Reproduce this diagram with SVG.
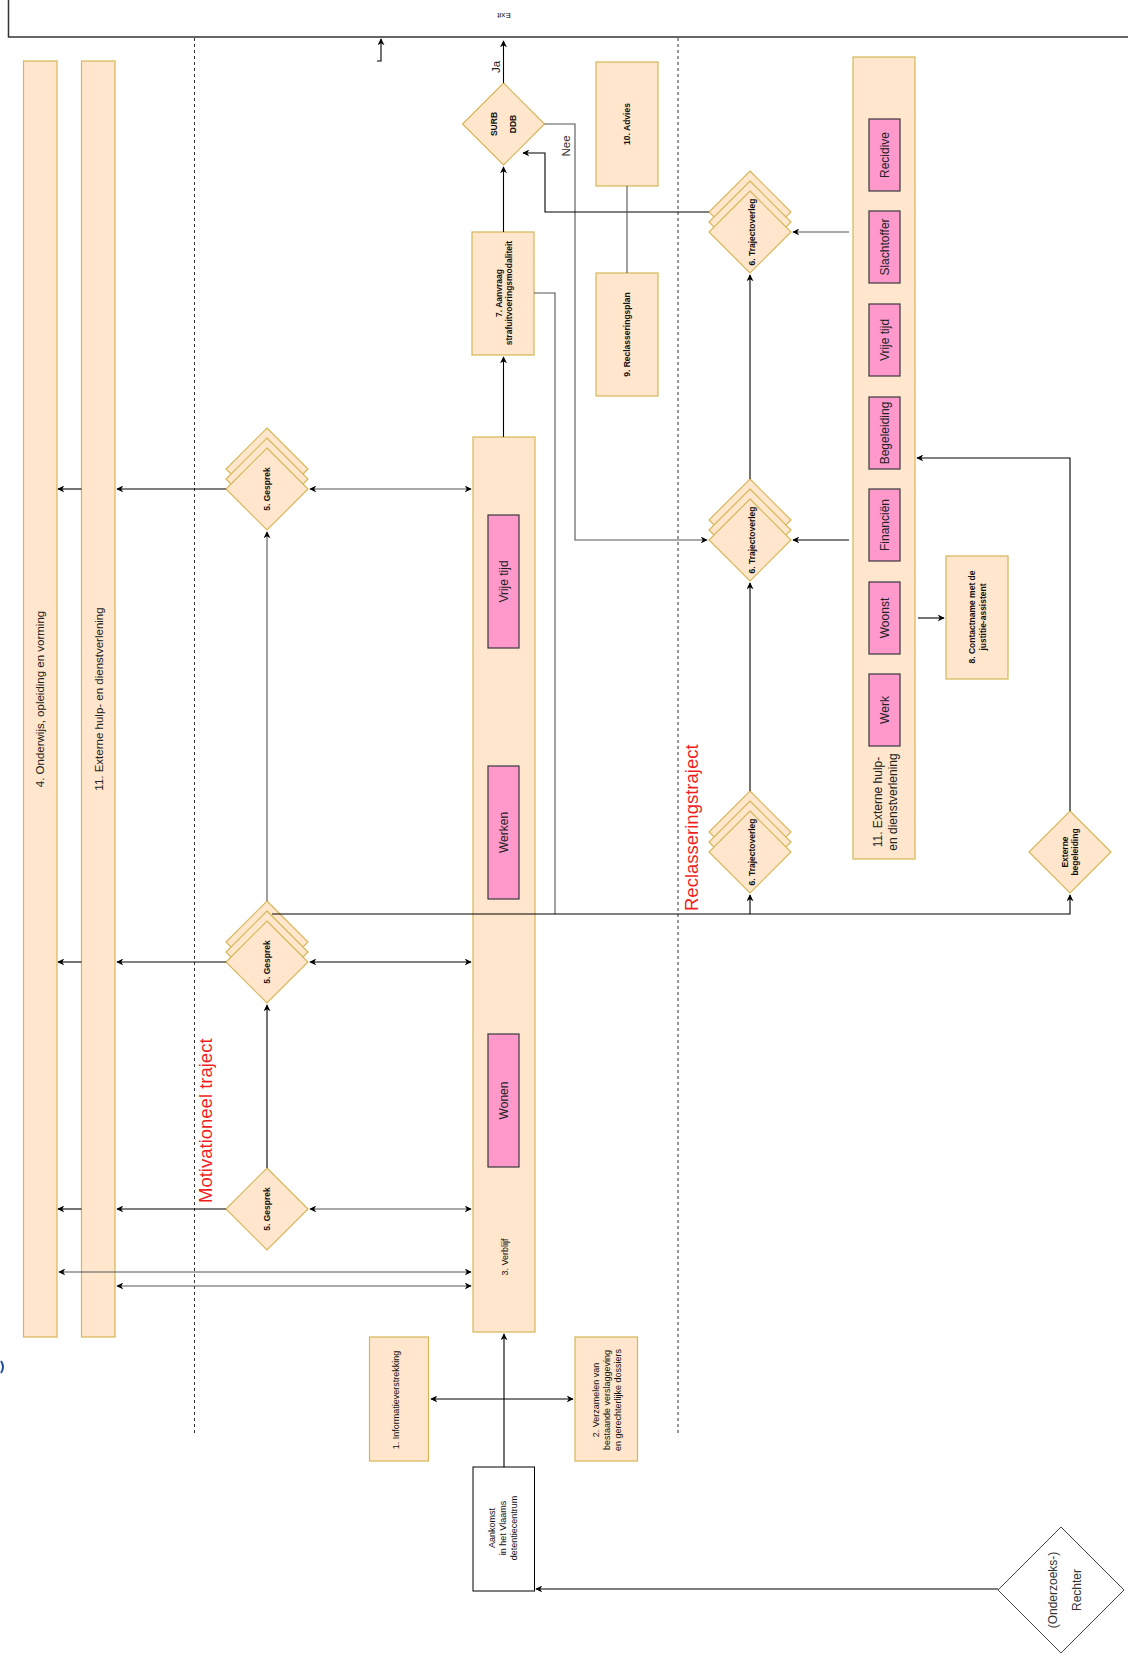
<svg xmlns="http://www.w3.org/2000/svg" width="1128" height="1661" viewBox="0 0 1128 1661">
<defs>
<marker id="ah" viewBox="0 0 10 10" refX="9" refY="5" markerWidth="7" markerHeight="7" orient="auto-start-reverse" markerUnits="userSpaceOnUse">
<path d="M0,0 L10,5 L0,10 L3,5 z" fill="#000"/>
</marker>
<style>
.n{fill:#ffe6cc;stroke:#d6b656;stroke-width:1.2}
.p{fill:#ff99cc;stroke:#36393d;stroke-width:1.2}
.w{fill:#fff;stroke:#000;stroke-width:1}
.c{fill:none;stroke:#000;stroke-width:1.1}
.g{fill:none;stroke:#555;stroke-width:1.1}
.a{marker-end:url(#ah)}
.b{marker-start:url(#ah);marker-end:url(#ah)}
.d{fill:none;stroke:#333;stroke-width:1;stroke-dasharray:3,3}
text{font-family:"Liberation Sans",Arial,sans-serif;fill:#111;text-anchor:middle;dominant-baseline:central}
.s{font-size:8.5px;font-weight:bold}
.r{font-size:9px}
.m{font-size:12px;fill:#222}
.L{font-size:11.5px;fill:#222}
.red{font-size:18.5px;fill:#f01e1e;text-anchor:start;dominant-baseline:auto}
</style>
</defs>

<g id="exit">
<rect x="8.5" y="-5" width="1130" height="42" fill="#fff" stroke="#333" stroke-width="1.5"/>
<text class="r" style="font-size:8px" transform="translate(504,15) rotate(180)">Exit</text>
</g>

<g id="lanes">
<line class="d" x1="194.5" y1="38" x2="194.5" y2="1435"/>
<line class="d" x1="678" y1="38" x2="678" y2="1435"/>
<text class="red" transform="translate(212,1203) rotate(-90)">Motivationeel traject</text>
<text class="red" transform="translate(698,911) rotate(-90)">Reclasseringstraject</text>
<path d="M1,1361 Q5,1367 1,1373" fill="none" stroke="#1f4e9a" stroke-width="2"/>
</g>

<g id="bar4">
<rect class="n" x="23.5" y="61" width="33.5" height="1276"/>
<text class="L" transform="translate(40,699) rotate(-90)">4. Onderwijs, opleiding en vorming</text>
</g>
<g id="bar11left">
<rect class="n" x="81.5" y="61" width="33.5" height="1276"/>
<text class="L" transform="translate(98.5,699) rotate(-90)">11. Externe hulp- en dienstverlening</text>
</g>

<g id="verblijf">
<rect class="n" x="473" y="437" width="62" height="895"/>
<text class="r" transform="translate(505,1257) rotate(-90)">3. Verblijf</text>
<rect class="p" x="488" y="515" width="31" height="133"/>
<text class="m" transform="translate(503.5,581.5) rotate(-90)">Vrije tijd</text>
<rect class="p" x="488" y="766" width="31" height="133"/>
<text class="m" transform="translate(503.5,832.5) rotate(-90)">Werken</text>
<rect class="p" x="488" y="1034" width="31" height="133"/>
<text class="m" transform="translate(503.5,1100.5) rotate(-90)">Wonen</text>
</g>

<g id="n7">
<rect class="n" x="472" y="232" width="62" height="123"/>
<text class="s" transform="translate(499,293) rotate(-90)">7. Aanvraag</text>
<text class="s" transform="translate(509,293) rotate(-90)">strafuitvoeringsmodaliteit</text>
</g>

<g id="surb">
<polygon class="n" points="503.5,83 544.5,124 503.5,165 462.5,124"/>
<text class="s" transform="translate(494,124) rotate(-90)">SURB</text>
<text class="s" transform="translate(513,124) rotate(-90)">DDB</text>
</g>

<g id="n10">
<rect class="n" x="596" y="62" width="62" height="124"/>
<text class="s" transform="translate(627,124) rotate(-90)">10. Advies</text>
</g>
<g id="n9">
<rect class="n" x="596" y="273" width="62" height="123"/>
<text class="s" transform="translate(627,334.5) rotate(-90)">9. Reclasseringsplan</text>
</g>

<g id="gesprek3">
<polygon class="n" points="267,428 308,469 267,510 226,469"/>
<polygon class="n" points="267,438 308,479 267,520 226,479"/>
<polygon class="n" points="267,448 308,489 267,530 226,489"/>
<text class="s" transform="translate(267,489) rotate(-90)">5. Gesprek</text>
</g>
<g id="gesprek2">
<polygon class="n" points="267,901 308,942 267,983 226,942"/>
<polygon class="n" points="267,911 308,952 267,993 226,952"/>
<polygon class="n" points="267,921 308,962 267,1003 226,962"/>
<text class="s" transform="translate(267,962) rotate(-90)">5. Gesprek</text>
</g>
<g id="gesprek1">
<polygon class="n" points="267,1168 308,1209 267,1250 226,1209"/>
<text class="s" transform="translate(267,1209) rotate(-90)">5. Gesprek</text>
</g>

<g id="traj3">
<polygon class="n" points="750,171 791,212 750,253 709,212"/>
<polygon class="n" points="750,181 791,222 750,263 709,222"/>
<polygon class="n" points="750,191 791,232 750,273 709,232"/>
<text class="s" transform="translate(752,232) rotate(-90)">6. Trajectoverleg</text>
</g>
<g id="traj2">
<polygon class="n" points="750,479 791,520 750,561 709,520"/>
<polygon class="n" points="750,489 791,530 750,571 709,530"/>
<polygon class="n" points="750,499 791,540 750,581 709,540"/>
<text class="s" transform="translate(752,540) rotate(-90)">6. Trajectoverleg</text>
</g>
<g id="traj1">
<polygon class="n" points="750,791 791,832 750,873 709,832"/>
<polygon class="n" points="750,801 791,842 750,883 709,842"/>
<polygon class="n" points="750,811 791,852 750,893 709,852"/>
<text class="s" transform="translate(752,852) rotate(-90)">6. Trajectoverleg</text>
</g>

<g id="bar11right">
<rect class="n" x="853" y="57" width="62" height="802"/>
<text class="m" transform="translate(878,802) rotate(-90)">11. Externe hulp-</text>
<text class="m" transform="translate(893,802) rotate(-90)">en dienstverlening</text>
<rect class="p" x="869" y="119" width="31" height="72"/>
<text class="m" transform="translate(884.5,155) rotate(-90)">Recidive</text>
<rect class="p" x="869" y="211" width="31" height="72"/>
<text class="m" transform="translate(884.5,247) rotate(-90)">Slachtoffer</text>
<rect class="p" x="869" y="304" width="31" height="72"/>
<text class="m" transform="translate(884.5,340) rotate(-90)">Vrije tijd</text>
<rect class="p" x="869" y="397" width="31" height="72"/>
<text class="m" transform="translate(884.5,433) rotate(-90)">Begeleiding</text>
<rect class="p" x="869" y="489" width="31" height="72"/>
<text class="m" transform="translate(884.5,525) rotate(-90)">Financiën</text>
<rect class="p" x="869" y="582" width="31" height="72"/>
<text class="m" transform="translate(884.5,618) rotate(-90)">Woonst</text>
<rect class="p" x="869" y="674" width="31" height="72"/>
<text class="m" transform="translate(884.5,710) rotate(-90)">Werk</text>
</g>

<g id="n8">
<rect class="n" x="946" y="556" width="62" height="123"/>
<text class="s" transform="translate(972,617) rotate(-90)">8. Contactname met de</text>
<text class="s" transform="translate(983,617) rotate(-90)">justitie-assistent</text>
</g>

<g id="externe">
<polygon class="n" points="1070,811 1111,852 1070,893 1029,852"/>
<text class="s" transform="translate(1065,852) rotate(-90)">Externe</text>
<text class="s" transform="translate(1075,852) rotate(-90)">begeleiding</text>
</g>

<g id="n1">
<rect class="n" x="369.5" y="1337" width="59" height="124"/>
<text class="r" transform="translate(396,1400) rotate(-90)">1. Informatieverstrekking</text>
</g>
<g id="n2">
<rect class="n" x="575" y="1337" width="62.5" height="124"/>
<text class="r" transform="translate(595.5,1400) rotate(-90)">2. Verzamelen van</text>
<text class="r" transform="translate(606.5,1400) rotate(-90)">bestaande verslaggeving</text>
<text class="r" transform="translate(617.5,1400) rotate(-90)">en gerechterlijke dossiers</text>
</g>

<g id="aankomst">
<rect class="w" x="473" y="1467" width="61.5" height="124"/>
<text class="r" transform="translate(492,1528) rotate(-90)">Aankomst</text>
<text class="r" transform="translate(503,1528) rotate(-90)">in het Vlaams</text>
<text class="r" transform="translate(514,1528) rotate(-90)">detentiecentrum</text>
</g>

<g id="rechter">
<polygon points="1061,1527 1124,1590 1061,1653 998,1590" fill="#fff" stroke="#444" stroke-width="1"/>
<text class="m" style="fill:#333" transform="translate(1053,1590) rotate(-90)">(Onderzoeks-)</text>
<text class="m" style="fill:#333" transform="translate(1077,1590) rotate(-90)">Rechter</text>
</g>

<g id="connectors">
<path class="c a" d="M377,61 H381 V39"/>
<path class="c a" d="M503.5,83 V41"/>
<text class="L" transform="translate(496,67) rotate(-90)">Ja</text>
<path class="g a" d="M544.5,124 H575 V540 H707"/>
<text class="L" style="fill:#333" transform="translate(566,146) rotate(-90)">Nee</text>
<path class="c a" d="M709,212 H545 V153 H523"/>
<path class="c a" d="M503.5,232 V167"/>
<path class="c a" d="M503.5,437 V357"/>
<path class="g" d="M534,293 H555 V914"/>
<line class="g" x1="627" y1="186" x2="627" y2="273"/>
<path class="c a" d="M272,914 H1070 V895"/>
<path class="c a" d="M750,914 V895"/>
<path class="c a" d="M750,791 V583"/>
<path class="c a" d="M750,479 V275"/>
<path class="g a" d="M849,232 H793"/>
<path class="c a" d="M849,540 H793"/>
<path class="c a" d="M918,618 H944"/>
<path class="c a" d="M1070,811 V458 H917"/>
<path class="c a" d="M267,1168 V1005"/>
<path class="g a" d="M267,901 V532"/>
<path class="c a" d="M226,489 H117"/>
<path class="c a" d="M81.5,489 H58"/>
<path class="g b" d="M310,489 H471"/>
<path class="c a" d="M226,962 H117"/>
<path class="c a" d="M81.5,962 H58"/>
<path class="c b" d="M310,962 H471"/>
<path class="c a" d="M226,1209 H117"/>
<path class="c a" d="M81.5,1209 H58"/>
<path class="g b" d="M310,1209 H471"/>
<path class="g b" d="M59,1272 H471"/>
<path class="g b" d="M117,1286 H471"/>
<path class="c b" d="M431,1399 H573"/>
<path class="c a" d="M504,1467 V1334"/>
<path class="c a" d="M998,1589 H536"/>
</g>
</svg>
